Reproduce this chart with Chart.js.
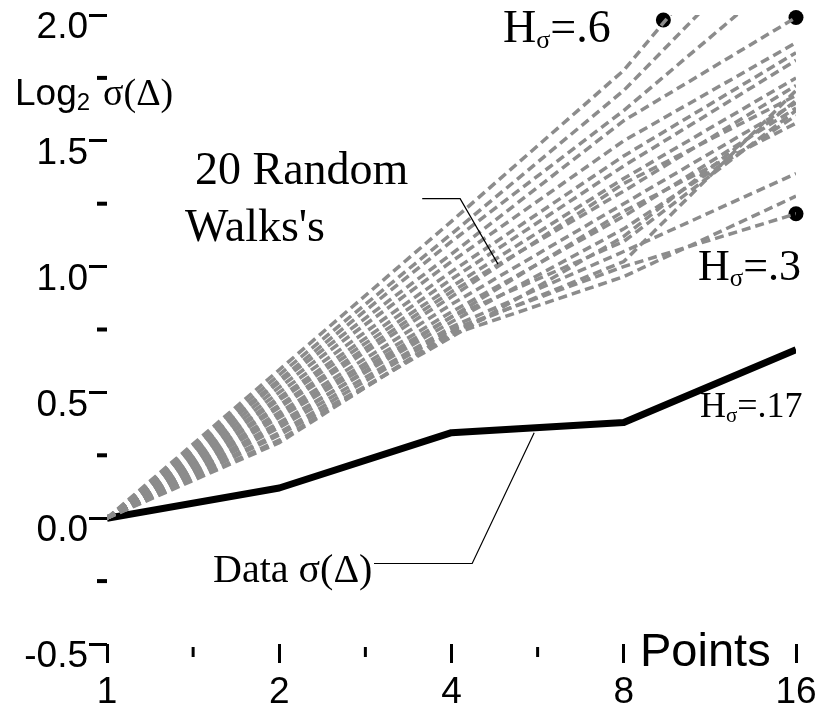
<!DOCTYPE html>
<html><head><meta charset="utf-8">
<script src="https://cdn.jsdelivr.net/npm/chart.js@4/dist/chart.umd.min.js"></script>
<style>html,body{margin:0;padding:0;background:#fff}#wrap{width:819px;height:717px}</style>
</head><body><div id="wrap"><canvas id="c" width="819" height="717"></canvas></div>
<script>
// x positions are log2(points)
const xPos = [0, 1, 2, 3, 4];
const xLabels = ['1', '2', '4', '8', '16'];
const yTickLabels = ['-0.5', '0.0', '0.5', '1.0', '1.5', '2.0'];
const yMinorTicks = [-0.25, 0.25, 0.75, 1.25, 1.75];
const xMinorTicks = [0.5, 1.5, 2.5];
const dataSigma = [0, 0.12, 0.34, 0.38, 0.67];
const randomWalks = [
  [0, 0.59, 1.18, 1.78, 2.60],
  [0, 0.57, 1.13, 1.70, 2.40],
  [0, 0.55, 1.10, 1.62, 2.20],
  [0, 0.54, 1.05, 1.58, 1.99],
  [0, 0.52, 1.02, 1.50, 1.89],
  [0, 0.50, 0.98, 1.44, 1.85],
  [0, 0.48, 0.95, 1.40, 1.82],
  [0, 0.47, 0.92, 1.35, 1.75],
  [0, 0.45, 0.90, 1.30, 1.72],
  [0, 0.44, 0.88, 1.33, 1.68],
  [0, 0.42, 0.85, 1.25, 1.65],
  [0, 0.41, 0.82, 1.20, 1.63],
  [0, 0.40, 0.80, 1.22, 1.57],
  [0, 0.38, 0.78, 1.15, 1.60],
  [0, 0.37, 0.80, 1.10, 1.62],
  [0, 0.36, 0.76, 1.06, 1.37],
  [0, 0.34, 0.75, 1.00, 1.21],
  [0, 0.33, 0.72, 1.12, 1.66],
  [0, 0.31, 0.73, 0.96, 1.28],
  [0, 0.30, 0.74, 1.02, 1.70]
];
const hMarkerX = [3.23, 4, 4];
const hMarkerY = [1.98, 1.99, 1.21];
// leader lines in data units
const walksLeaderX = [1.83, 2.05, 2.27];
const walksLeaderY = [1.27, 1.27, 1.01];
const dataLeaderX = [1.55, 2.12, 2.48];
const dataLeaderY = [-0.18, -0.18, 0.34];

const SANS = '"Liberation Sans", Arial, sans-serif';
const SERIF = '"Liberation Serif", "Times New Roman", serif';

const datasets = randomWalks.map(w => ({
  data: w.map((v, i) => ({x: xPos[i], y: v})),
  borderColor: '#8c8c8c', borderWidth: 3.5, borderDash: [9, 5],
  pointRadius: 0, fill: false, tension: 0, borderCapStyle: 'butt'
}));
datasets.push({
  data: dataSigma.map((v, i) => ({x: xPos[i], y: v})),
  borderColor: '#000', borderWidth: 7, pointRadius: 0, fill: false, tension: 0,
  borderJoinStyle: 'round'
});
datasets.push({
  type: 'scatter',
  data: hMarkerX.map((x, i) => ({x: x, y: hMarkerY[i]})),
  pointRadius: 7.5, pointBackgroundColor: '#000', pointBorderWidth: 0, showLine: false, clip: false
});

function subText(ctx, x, y, main, mainFont, sub, subFont, subDy, rest, restFont) {
  ctx.font = mainFont; ctx.fillText(main, x, y); x += ctx.measureText(main).width;
  ctx.font = subFont; ctx.fillText(sub, x, y + subDy); x += ctx.measureText(sub).width;
  ctx.font = restFont; ctx.fillText(rest, x, y);
}

const annot = {
  id: 'annot',
  afterDraw(chart) {
    const ctx = chart.ctx, xs = chart.scales.x, ys = chart.scales.y;
    const L = chart.chartArea.left, B = chart.chartArea.bottom;
    ctx.save();
    ctx.strokeStyle = '#000'; ctx.fillStyle = '#000';
    // minor ticks
    ctx.lineWidth = 4;
    yMinorTicks.forEach(v => { const p = ys.getPixelForValue(v); ctx.beginPath(); ctx.moveTo(L - 10, p); ctx.lineTo(L, p); ctx.stroke(); });
    ctx.lineWidth = 3;
    xMinorTicks.forEach(v => { const p = xs.getPixelForValue(v); ctx.beginPath(); ctx.moveTo(p, B + 3); ctx.lineTo(p, B + 13); ctx.stroke(); });
    // leader lines
    ctx.lineWidth = 1.2;
    [[walksLeaderX, walksLeaderY], [dataLeaderX, dataLeaderY]].forEach(([lx, ly]) => {
      ctx.beginPath();
      lx.forEach((x, i) => { const px = xs.getPixelForValue(x), py = ys.getPixelForValue(ly[i]); i ? ctx.lineTo(px, py) : ctx.moveTo(px, py); });
      ctx.stroke();
    });
    ctx.textBaseline = 'alphabetic'; ctx.textAlign = 'left';
    // y axis title
    subText(ctx, 15, 105, 'Log', '37px ' + SANS, '2', '24px ' + SANS, 5, '', '37px ' + SANS);
    ctx.font = '38px ' + SERIF; ctx.fillText('σ(Δ)', 103, 105);
    // labels
    ctx.font = '46px ' + SERIF;
    ctx.fillText('20 Random', 195, 184);
    ctx.fillText('Walks\'s', 185, 241);
    ctx.font = '40px ' + SERIF;
    ctx.fillText('Data σ(Δ)', 213, 582);
    subText(ctx, 503, 42, 'H', '46px ' + SERIF, 'σ', '26px ' + SERIF, 6, '=.6', '46px ' + SERIF);
    subText(ctx, 698, 280, 'H', '44px ' + SERIF, 'σ', '25px ' + SERIF, 6, '=.3', '44px ' + SERIF);
    subText(ctx, 700, 417, 'H', '36px ' + SERIF, 'σ', '21px ' + SERIF, 5, '=.17', '36px ' + SERIF);
    // x axis title
    ctx.font = '47px ' + SANS;
    const w = ctx.measureText('Points').width;
    ctx.fillStyle = '#fff'; ctx.fillRect(638, 626, w + 4, 48);
    ctx.fillStyle = '#000'; ctx.fillText('Points', 640, 666);
    ctx.restore();
  }
};

new Chart(document.getElementById('c'), {
  type: 'line',
  data: {datasets},
  plugins: [annot],
  options: {
    responsive: false, animation: false, devicePixelRatio: 1,
    layout: {padding: {top: 15, right: 23, left: 0, bottom: 0}},
    plugins: {legend: {display: false}, tooltip: {enabled: false}},
    scales: {
      x: {
        type: 'linear', min: 0, max: 4,
        afterFit(s) { s.height = 73; s.paddingLeft = 0; s.paddingRight = 0; },
        border: {display: false},
        grid: {display: true, drawOnChartArea: false, drawTicks: true, tickLength: 19, lineWidth: 3, color: '#000'},
        ticks: {stepSize: 1, autoSkip: false, maxRotation: 0, padding: 8, color: '#000',
          font: {family: SANS, size: 37},
          callback: (v, i) => xLabels[i]}
      },
      y: {
        type: 'linear', min: -0.5, max: 2,
        afterFit(s) { s.width = 107; s.paddingTop = 0; s.paddingBottom = 0; },
        border: {display: false},
        grid: {display: true, drawOnChartArea: false, drawTicks: true, tickLength: 18, lineWidth: 3, color: '#000'},
        ticks: {stepSize: 0.5, autoSkip: false, padding: 1, labelOffset: 13, color: '#000',
          font: {family: SANS, size: 37},
          callback: (v, i) => yTickLabels[i]}
      }
    }
  }
});
</script></body></html>
